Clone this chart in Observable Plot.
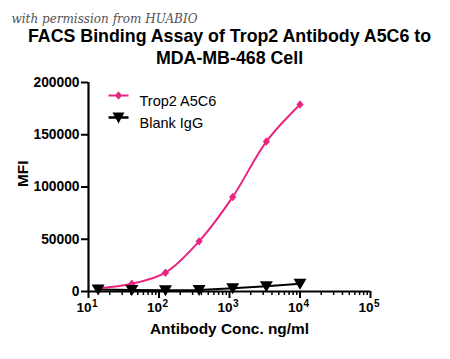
<!DOCTYPE html>
<html>
<head>
<meta charset="utf-8">
<script src="https://cdn.jsdelivr.net/npm/d3@7"></script>
<script src="https://cdn.jsdelivr.net/npm/@observablehq/plot@0.6"></script>
<style>
  html, body { margin: 0; padding: 0; background: #fff; }
  svg { display: block; }
</style>
</head>
<body>
<div id="chart"></div>
<script>
// ---- data ----
const concentrations = [13.7, 41.2, 123.5, 370.4, 1111, 3333, 10000];
const trop2Values = [3000, 7400, 18000, 48000, 90500, 143500, 179000];
const blankValues = [1800, 1500, 1300, 1500, 3000, 5000, 7500];
const seriesNames = ["Trop2 A5C6", "Blank IgG"];
const xMajorTicks = [10, 100, 1000, 10000, 100000];
const xTickExponents = ["1", "2", "3", "4", "5"];
const yTicks = [0, 50000, 100000, 150000, 200000];
const titleLines = ["FACS Binding Assay of Trop2 Antibody A5C6 to", "MDA-MB-468 Cell"];
const watermark = "with permission from HUABIO";
const xLabel = "Antibody Conc. ng/ml";
const yLabel = "MFI";

const pink = "#e8267f";
const trop2 = concentrations.map((c, i) => ({x: c, y: trop2Values[i]}));
const blank = concentrations.map((c, i) => ({x: c, y: blankValues[i]}));
const xMinorTicks = [];
for (let e = 1; e < 5; e++) for (let m = 2; m <= 9; m++) xMinorTicks.push(m * 10 ** e);
const xTickLabels = xMajorTicks.map((v, i) => ({x: v, exp: xTickExponents[i]}));

// legend symbols: line segment + marker
const legendDiamond = {draw(ctx) {
  ctx.rect(-10, -1, 20, 2);
  ctx.moveTo(0, -4.2); ctx.lineTo(3.6, 0); ctx.lineTo(0, 4.2); ctx.lineTo(-3.6, 0); ctx.closePath();
}};
const legendTri = {draw(ctx) {
  ctx.rect(-10, -1.2, 20, 2.4);
  ctx.moveTo(-6, -5); ctx.lineTo(6, -5); ctx.lineTo(0, 6); ctx.closePath();
}};
const diamond = {draw(ctx) {
  ctx.moveTo(0, -4.2); ctx.lineTo(3.6, 0); ctx.lineTo(0, 4.2); ctx.lineTo(-3.6, 0); ctx.closePath();
}};
const triDown = {draw(ctx) {
  ctx.moveTo(-6.5, -5); ctx.lineTo(6.5, -5); ctx.lineTo(0, 6); ctx.closePath();
}};

const font = "Liberation Sans, Arial, sans-serif";

const plot = Plot.plot({
  width: 450,
  height: 359,
  marginTop: 82,
  marginLeft: 88,
  marginRight: 80,
  marginBottom: 68,
  style: {fontFamily: font, background: "#fff", color: "#000"},
  x: {type: "log", domain: [10, 100000]},
  y: {domain: [0, 200000]},
  marks: [
    Plot.axisY({ticks: yTicks, tickSize: 7, tickPadding: 2, tickFormat: d => String(d), fontSize: 13.8, fontWeight: "bold", label: null, strokeWidth: 2}),
    Plot.axisX({ticks: xMinorTicks, tickSize: 4, tickFormat: () => "", label: null, strokeWidth: 1.5}),
    Plot.axisX({ticks: xMajorTicks, tickSize: 7, tickFormat: () => "", label: null, strokeWidth: 2}),
    Plot.text(xTickLabels, {x: "x", frameAnchor: "bottom", dy: 20, dx: 3, text: () => "10", textAnchor: "end", fontSize: 13.5, fontWeight: "bold", fill: "#000"}),
    Plot.text(xTickLabels, {x: "x", frameAnchor: "bottom", dy: 15, dx: 3.5, text: "exp", textAnchor: "start", fontSize: 10, fontWeight: "bold", fill: "#000"}),
    Plot.ruleY([0], {stroke: "#000", strokeWidth: 2.2}),
    Plot.ruleX([10], {stroke: "#000", strokeWidth: 2.2}),
    Plot.line(blank, {x: "x", y: "y", stroke: "#000", strokeWidth: 2}),
    Plot.line(trop2, {x: "x", y: "y", stroke: pink, strokeWidth: 2, curve: "catmull-rom"}),
    Plot.dot(trop2, {x: "x", y: "y", symbol: diamond, fill: pink, r: 4}),
    Plot.dot(blank, {x: "x", y: "y", symbol: triDown, fill: "#000", r: 6}),
    // legend
    Plot.dot([seriesNames[0]], {frameAnchor: "top-left", dx: 30, dy: 13, symbol: legendDiamond, fill: pink}),
    Plot.dot([seriesNames[1]], {frameAnchor: "top-left", dx: 30, dy: 35, symbol: legendTri, fill: "#000"}),
    Plot.text([seriesNames[0]], {frameAnchor: "top-left", dx: 51, dy: 13, text: d => d, textAnchor: "start", fontSize: 14.5, fill: "#000"}),
    Plot.text([seriesNames[1]], {frameAnchor: "top-left", dx: 51, dy: 35, text: d => d, textAnchor: "start", fontSize: 14.5, fill: "#000"}),
    // axis labels
    Plot.text([xLabel], {frameAnchor: "bottom", dy: 42, text: d => d, fontSize: 15.4, fontWeight: "bold", fill: "#000"}),
    Plot.text([yLabel], {frameAnchor: "left", dx: -65, text: d => d, rotate: -90, fontSize: 15.4, fontWeight: "bold", fill: "#000"}),
    // title
    Plot.text([titleLines[0]], {frameAnchor: "top", dx: 0, dy: -52.8, text: d => d, fontSize: 17.8, fontWeight: "bold", fill: "#000"}),
    Plot.text([titleLines[1]], {frameAnchor: "top", dx: 0, dy: -30.8, text: d => d, fontSize: 17.8, fontWeight: "bold", fill: "#000"}),
    // watermark
    Plot.text([watermark], {frameAnchor: "top-left", dx: -77, dy: -68.5, text: d => d, textAnchor: "start", fontSize: 12, fontStyle: "italic", fontFamily: "DejaVu Serif, serif", fill: "#333", opacity: 0.85})
  ]
});
document.getElementById("chart").appendChild(plot);
</script>
</body>
</html>
